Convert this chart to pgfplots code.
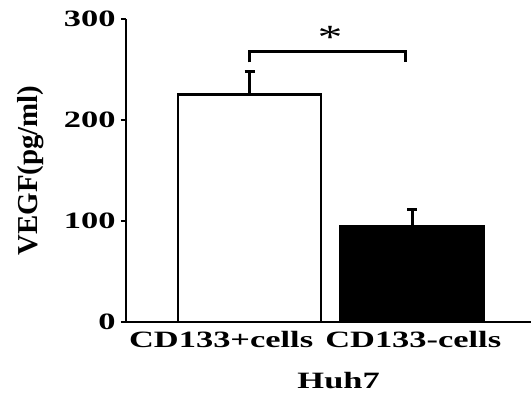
\documentclass[border=0pt]{standalone}
\usepackage{fontspec}
\setmainfont{Liberation Serif}
\newfontfamily\bst{Liberation Serif Bold}[FakeStretch=1.47]
\newfontfamily\rst{Liberation Serif}[FakeStretch=1.47]
\newfontfamily\ylabfont{Liberation Serif Bold}
\usepackage{pgfplots}
\pgfplotsset{compat=1.18}
\begin{document}
\begin{tikzpicture}
\begin{axis}[
  scale only axis,
  width=405bp, height=303bp,
  at={(0,0)}, anchor=south west,
  xmin=-0.76, xmax=1.73,
  ymin=0, ymax=300,
  axis x line=bottom, axis y line=left,
  axis line style={line width=2.5pt, -},
  ytick={0,100,200,300},
  xtick={-0.175,1.006},
  xticklabels={CD133+cells,CD133-cells},
  x tick style={draw=none},
  major tick length=5bp,
  y tick style={line width=2.5pt, black},
  tick align=outside,
  /pgf/number format/assume math mode=true,
  tick label style={font=\bst\fontsize{23.5}{24}\selectfont},
  yticklabel style={xshift=-2bp},
  xticklabel style={anchor=north, yshift=-4bp, inner sep=0pt},
  xlabel={Huh7},
  xlabel style={at={(axis description cs:0.525,-0.165)}, anchor=north, inner sep=0pt, font=\bst\fontsize{23.5}{24}\selectfont},
  ylabel={VEGF(pg/ml)},
  ylabel style={at={(axis description cs:-0.2346,0.5)}, rotate=0, anchor=center, inner sep=0pt, font=\ylabfont\fontsize{29}{30}\selectfont},
  clip=false,
]
\addplot[ybar, bar width=0.88, bar shift=0pt, draw=black, fill=white, line width=2.5pt,
  error bars/.cd, y dir=plus, y explicit, error mark=|,
  error bar style={line width=2.5pt, black},
  error mark options={line width=2.5pt, black, mark size=5bp}]
  coordinates {(0,225.4) +- (0,22.4)};
\addplot[ybar, bar width=0.88, bar shift=0pt, draw=black, fill=black, line width=2.5pt,
  error bars/.cd, y dir=plus, y explicit, error mark=|,
  error bar style={line width=2.5pt, black},
  error mark options={line width=2.5pt, black, mark size=5bp}]
  coordinates {(1,95) +- (0,16.6)};
\draw[line width=2.5pt] (axis cs:0,257) -- (axis cs:0,268) -- (axis cs:0.957,268) -- (axis cs:0.957,257);
\node[font=\rst\fontsize{34}{34}\selectfont, inner sep=0pt] at (axis cs:0.495,282) {*};
\end{axis}
\pgfresetboundingbox
\path (-126bp,-72bp) rectangle (405bp,322bp);
\end{tikzpicture}
\end{document}
